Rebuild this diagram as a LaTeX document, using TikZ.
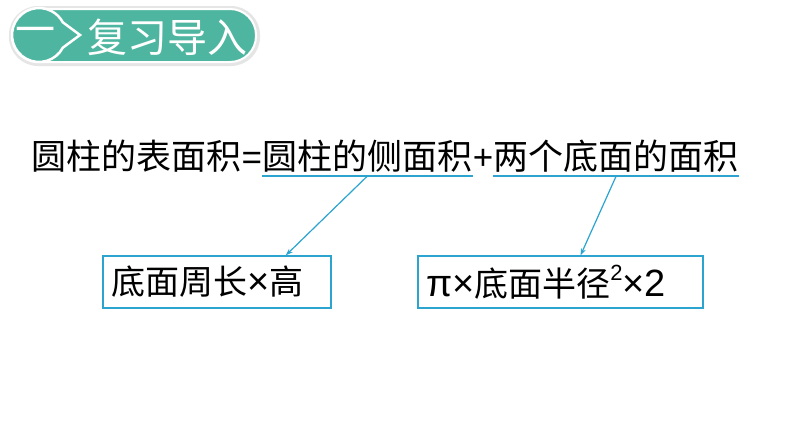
\documentclass[tikz,border=0pt]{standalone}
\usepackage{fontspec}
\usetikzlibrary{arrows.meta,calc}
\newfontfamily\cjk{Noto Sans CJK SC}
\newfontfamily\lat{Liberation Sans}
\definecolor{bannerteal}{RGB}{78,182,160}
\definecolor{linecolor}{RGB}{43,164,208}
\newcommand{\boxlat}{\lat\fontsize{38}{40}\selectfont}
\newcommand{\sqmark}{\raisebox{0.48em}{\lat\fontsize{22}{22}\selectfont 2}}
\begin{document}
\begin{tikzpicture}[
    x=1pt, y=-1pt,
    every node/.append style={font=\cjk},
    % 文字样式
    maintext/.style={inner sep=0pt, anchor=base west, font=\cjk\fontsize{35}{40}\selectfont},
    mainsign/.style={maintext, font=\lat\fontsize{35}{40}\selectfont},
    formula/.style={draw=linecolor, line width=1.3pt, minimum height=52pt, inner xsep=8pt, align=left, font=\cjk\fontsize{34}{38}\selectfont},
    bannertext/.style={white, inner sep=0pt, font=\cjk\fontsize{40}{44}\selectfont},
    underline/.style={draw=linecolor, line width=1.2pt},
    arrow/.style={-{Stealth[length=7pt,width=5pt]}, linecolor, line width=1.2pt},
]
\fill[white] (0,0) rectangle (794,447);
\useasboundingbox (0,0) rectangle (794,447);

% ========== 标题栏 ==========
\fill[gray!20, rounded corners=29pt] (9,6) rectangle (260,66);
\draw[white, line width=2pt, fill=bannerteal, rounded corners=26pt] (12,9) rectangle (256,62);
\draw[white, line width=2.5pt, fill=bannerteal] (80,35) -- ([shift={(39,35)}]28:27) arc[start angle=28, end angle=332, radius=27] -- cycle;
\node[bannertext] (num) at (36,36) {一};
\node[bannertext] (title) at (167,37) {复习导入};

% ========== 公式 ==========
\node[maintext] (total) at (31,169) {圆柱的表面积};
\node[mainsign] (eq) at (total.base east) {=};
\node[maintext] (lateral) at (eq.base east) {圆柱的侧面积};
\node[mainsign] (plus) at (lateral.base east) {+};
\node[maintext] (bases) at (plus.base east) {两个底面的面积};

% 下划线
\draw[underline] ($(lateral.base west)+(0,7)$) -- ($(lateral.base east)+(0,7)$);
\draw[underline] ($(bases.base west)+(0,7)$) -- ($(bases.base east)+(0,7)$);
\coordinate (ul1) at ($(lateral.base)+(0,7)$);
\coordinate (ul2) at ($(bases.base)+(0,7)$);

% ========== 计算方法 ==========
\node[formula, text width=212pt] (perim) at (217,282) {底面周长{\boxlat ×}高};
\node[formula, text width=269pt] (circle) at (560.5,282) {{\boxlat π×}底面半径\sqmark{\boxlat ×2}};

% 箭头
\draw[arrow] (ul1) -- ($(perim.north west)!0.8!(perim.north east)$);
\draw[arrow] (ul2) -- ($(circle.north west)!0.57!(circle.north east)$);

\end{tikzpicture}
\end{document}
